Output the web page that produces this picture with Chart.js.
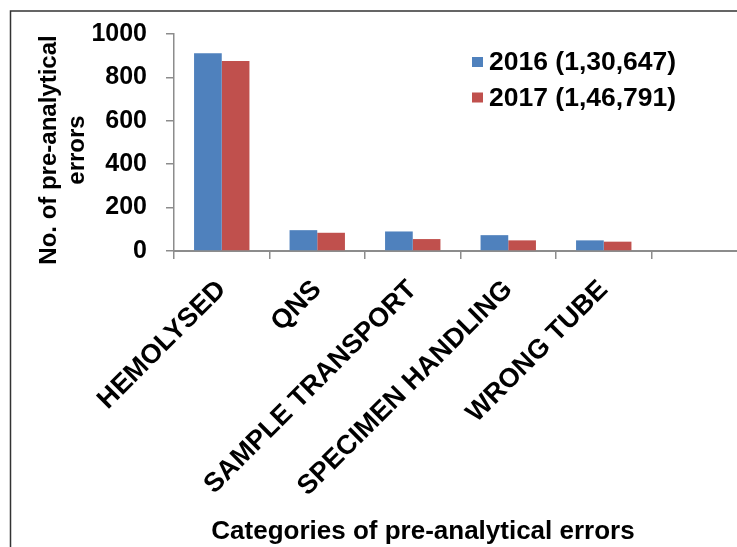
<!DOCTYPE html>
<html><head><meta charset="utf-8">
<script src="https://cdn.jsdelivr.net/npm/chart.js@4.4.0/dist/chart.umd.min.js"></script>
<style>
html,body{margin:0;padding:0;background:#fff;overflow:hidden;width:737px;height:547px}
#wrap{position:absolute;left:0;top:0;width:760px;height:547px}
</style></head><body>
<div id="wrap"><canvas id="c" width="760" height="547"></canvas></div>
<script>
const categories = ['HEMOLYSED', 'QNS', 'SAMPLE TRANSPORT', 'SPECIMEN HANDLING', 'WRONG TUBE', ''];
const series2016 = [911, 96, 90, 73, 49, null];
const series2017 = [876, 84, 55, 49, 43, null];
const seriesLabels = ['2016 (1,30,647)', '2017 (1,46,791)'];
const seriesColors = ['#4F81BD', '#C0504D'];
const yTicks = [0, 200, 400, 600, 800, 1000];
const xTitle = 'Categories of pre-analytical errors';
const yTitle = ['No. of pre-analytical', 'errors'];

const FONT = "'Liberation Sans', Arial, sans-serif";
const AXIS = '#8c8c8c';

const decor = {
  id: 'decor',
  beforeDraw(chart) {
    const ctx = chart.ctx;
    ctx.save();
    ctx.fillStyle = '#fff';
    ctx.fillRect(0, 0, chart.width, chart.height);
    ctx.strokeStyle = '#333';
    ctx.lineWidth = 1.5;
    ctx.beginPath();
    ctx.moveTo(10.5, chart.height);
    ctx.lineTo(10.5, 11);
    ctx.lineTo(chart.width, 11);
    ctx.stroke();
    ctx.restore();
  },
  afterDraw(chart) {
    const ctx = chart.ctx;
    ctx.save();
    ctx.fillStyle = '#000';
    // y axis title
    ctx.font = 'bold 24px ' + FONT;
    ctx.textAlign = 'center';
    ctx.textBaseline = 'middle';
    ctx.save();
    ctx.translate(49.5, 150);
    ctx.rotate(-Math.PI / 2);
    yTitle.forEach((t, i) => ctx.fillText(t, 0, i * 27.5));
    ctx.restore();
    // x axis title
    ctx.font = 'bold 26px ' + FONT;
    ctx.fillText(xTitle, 423, 532);
    // legend
    ctx.font = 'bold 26.5px ' + FONT;
    ctx.textAlign = 'left';
    chart.data.datasets.forEach((ds, i) => {
      const cy = 63 + i * 35.5;
      ctx.fillStyle = ds.backgroundColor;
      ctx.fillRect(472, cy - 6, 11, 10);
      ctx.fillStyle = '#000';
      ctx.fillText(ds.label, 489, cy);
    });
    ctx.restore();
  }
};

new Chart(document.getElementById('c'), {
  type: 'bar',
  data: {
    labels: categories,
    datasets: [
      { label: seriesLabels[0], data: series2016, backgroundColor: seriesColors[0] },
      { label: seriesLabels[1], data: series2017, backgroundColor: seriesColors[1] }
    ]
  },
  options: {
    responsive: false,
    animation: false,
    layout: { padding: { top: 33, left: 0, right: 13, bottom: 0 } },
    datasets: { bar: { categoryPercentage: 0.58, barPercentage: 1.0 } },
    plugins: { legend: { display: false }, tooltip: { enabled: false } },
    scales: {
      x: {
        grid: { display: true, drawOnChartArea: false, drawTicks: true, tickLength: 8, color: AXIS, lineWidth: 1.5, offset: true },
        border: { color: AXIS, width: 2 },
        ticks: {
          maxRotation: 45, minRotation: 45, autoSkip: false, color: '#000', padding: 15,
          font: { family: FONT, size: 27, weight: 'bold' }
        },
        afterFit(s) { s.height = 547 - 251; }
      },
      y: {
        min: 0, max: 1000,
        afterBuildTicks(s) { s.ticks = yTicks.map(v => ({ value: v })); },
        grid: { drawOnChartArea: false, drawTicks: true, tickLength: 8, color: AXIS, lineWidth: 1.5 },
        border: { color: AXIS, width: 1.5 },
        ticks: {
          padding: 19, color: '#000', font: { family: FONT, size: 25, weight: 'bold' },
          callback: v => String(v)
        },
        afterFit(s) { s.width = 174; }
      }
    }
  },
  plugins: [decor]
});
</script>
</body></html>
